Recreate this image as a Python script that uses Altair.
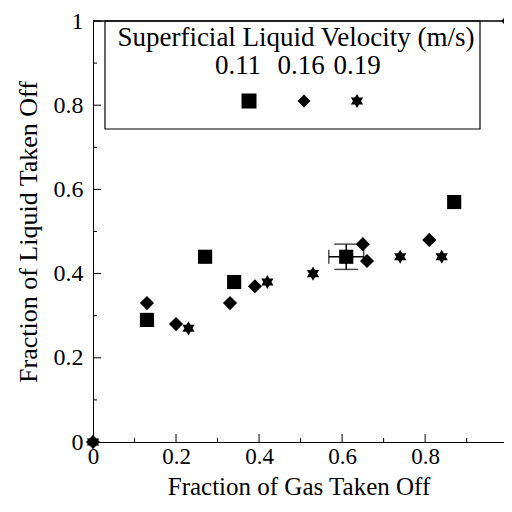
import altair as alt
import pandas as pd

# ---- data ----
series_labels = ["0.11", "0.16", "0.19"]

sq_x = [0.13, 0.27, 0.34, 0.61, 0.87]
sq_y = [0.29, 0.44, 0.38, 0.44, 0.57]

di_x = [0.0, 0.13, 0.20, 0.33, 0.39, 0.65, 0.66, 0.81, 1.0]
di_y = [0.0, 0.33, 0.28, 0.33, 0.37, 0.47, 0.43, 0.48, 1.0]

st_x = [0.0, 0.23, 0.42, 0.53, 0.74, 0.84]
st_y = [0.0, 0.27, 0.38, 0.40, 0.44, 0.44]

err_x = [0.61]
err_y = [0.44]
err_dx = [0.042]
err_dy = [0.03]

major_ticks = [0.2, 0.4, 0.6, 0.8, 1.0]
minor_ticks = [0.1, 0.3, 0.5, 0.7, 0.9]
axis_values = [0, 0.2, 0.4, 0.6, 0.8, 1.0]

FONT = "Liberation Serif"
HEX = "M0,-1L0.866,0.5L-0.866,0.5Z M0,1L-0.866,-0.5L0.866,-0.5Z"
shape_range = ["square", "diamond", HEX]

rows = []
for lab, xs, ys in zip(series_labels, [sq_x, di_x, st_x], [sq_y, di_y, st_y]):
    for a, b in zip(xs, ys):
        rows.append({"x": a, "y": b, "v": lab})
df = pd.DataFrame(rows)

W, H = 411, 421

xscale = alt.Scale(domain=[0, 0.99], nice=False, zero=False)
yscale = alt.Scale(domain=[0, 1], nice=False, zero=False)

xaxis = alt.Axis(values=axis_values, format=".1~f", ticks=False, tickSize=0,
                 grid=False, labelPadding=3, labelFontSize=23, labelFont=FONT,
                 labelColor="black", domainColor="black", title="Fraction of Gas Taken Off",
                 titleFont=FONT, titleFontSize=25, titleFontWeight="normal",
                 titleColor="black", titleY=52, titleBaseline="alphabetic",
                 labelFlush=False, labelOverlap=False)
yaxis = alt.Axis(values=axis_values, format=".1~f", ticks=False, tickSize=0,
                 grid=False, labelPadding=10, labelFontSize=24, labelFont=FONT,
                 labelColor="black", domainColor="black",
                 title="Fraction of Liquid Taken Off",
                 titleFont=FONT, titleFontSize=26, titleFontWeight="normal",
                 titleColor="black", titleX=-65, titleBaseline="middle",
                 labelFlush=False, labelOverlap=False)

points = alt.Chart(df).mark_point(filled=True, opacity=1, color="black").encode(
    x=alt.X("x:Q", scale=xscale, axis=xaxis),
    y=alt.Y("y:Q", scale=yscale, axis=yaxis),
    shape=alt.Shape("v:N", scale=alt.Scale(domain=series_labels, range=shape_range), legend=None),
    size=alt.Size("v:N", scale=alt.Scale(domain=series_labels, range=[200, 200, 240]), legend=None),
)

err_df = pd.DataFrame({"x": err_x, "y": err_y, "dx": err_dx, "dy": err_dy})
err_df["xlo"] = err_df["x"] - err_df["dx"]
err_df["xhi"] = err_df["x"] + err_df["dx"]
err_df["ylo"] = err_df["y"] - err_df["dy"]
err_df["yhi"] = err_df["y"] + err_df["dy"]

eb = alt.Chart(err_df)
ex = eb.mark_rule(color="black", strokeWidth=1.5).encode(
    x=alt.X("xlo:Q", scale=xscale), x2="xhi:Q", y=alt.Y("y:Q", scale=yscale))
ey = eb.mark_rule(color="black", strokeWidth=1.5).encode(
    x=alt.X("x:Q", scale=xscale), y=alt.Y("ylo:Q", scale=yscale), y2="yhi:Q")
cap_x_lo = eb.mark_tick(color="black", orient="vertical", size=14, thickness=1.5).encode(
    x=alt.X("xlo:Q", scale=xscale), y=alt.Y("y:Q", scale=yscale))
cap_x_hi = eb.mark_tick(color="black", orient="vertical", size=14, thickness=1.5).encode(
    x=alt.X("xhi:Q", scale=xscale), y=alt.Y("y:Q", scale=yscale))
cap_y_lo = eb.mark_tick(color="black", orient="horizontal", size=24, thickness=1.5).encode(
    x=alt.X("x:Q", scale=xscale), y=alt.Y("ylo:Q", scale=yscale))
cap_y_hi = eb.mark_tick(color="black", orient="horizontal", size=24, thickness=1.5).encode(
    x=alt.X("x:Q", scale=xscale), y=alt.Y("yhi:Q", scale=yscale))

# inside ticks
maj = pd.DataFrame({"t": major_ticks})
mnr = pd.DataFrame({"t": minor_ticks})
xt_maj = alt.Chart(maj).mark_rule(color="black").encode(
    x=alt.X("t:Q", scale=xscale), y=alt.value(H), y2=alt.value(H - 8))
xt_min = alt.Chart(mnr).mark_rule(color="black").encode(
    x=alt.X("t:Q", scale=xscale), y=alt.value(H), y2=alt.value(H - 4))
yt_maj = alt.Chart(maj).mark_rule(color="black").encode(
    y=alt.Y("t:Q", scale=yscale), x=alt.value(0), x2=alt.value(8))
yt_min = alt.Chart(mnr).mark_rule(color="black").encode(
    y=alt.Y("t:Q", scale=yscale), x=alt.value(0), x2=alt.value(4))

one = pd.DataFrame({"a": [0]})
# top frame line
top_line = alt.Chart(one).mark_rule(color="black", strokeWidth=1.5).encode(
    x=alt.value(0), x2=alt.value(W + 10), y=alt.value(0))

# legend box
box = alt.Chart(one).mark_rect(fill="white", stroke="black", strokeWidth=1.2).encode(
    x=alt.value(12), x2=alt.value(387), y=alt.value(0), y2=alt.value(108))
ltitle = alt.Chart(one).mark_text(font=FONT, fontSize=27, color="black",
                                  align="center", baseline="alphabetic").encode(
    x=alt.value(203), y=alt.value(25), text=alt.value("Superficial Liquid Velocity (m/s)"))

legend_layers = []
lab_x = [145, 208, 264]
sym_x = [156, 211, 264]
leg_sizes = [225, 170, 200]
for lab, shp, lx, sx, sz in zip(series_labels, shape_range, lab_x, sym_x, leg_sizes):
    legend_layers.append(alt.Chart(one).mark_text(font=FONT, fontSize=27, color="black",
                                                  align="center", baseline="alphabetic").encode(
        x=alt.value(lx), y=alt.value(53), text=alt.value(lab)))
    legend_layers.append(alt.Chart(one).mark_point(filled=True, opacity=1, color="black",
                                                   shape=shp, size=sz).encode(
        x=alt.value(sx), y=alt.value(80)))

chart = alt.layer(
    xt_maj, xt_min, yt_maj, yt_min, box, top_line, ltitle, *legend_layers,
    ex, ey, cap_x_lo, cap_x_hi, cap_y_lo, cap_y_hi, points
).properties(
    width=W, height=H,
    autosize=alt.AutoSizeParams(type="none"),
    padding={"left": 85, "top": 13, "right": 0, "bottom": 58},
).configure_view(strokeWidth=0).configure(background="white")

chart.save("out.html", embed_options={"renderer": "svg", "actions": False})
